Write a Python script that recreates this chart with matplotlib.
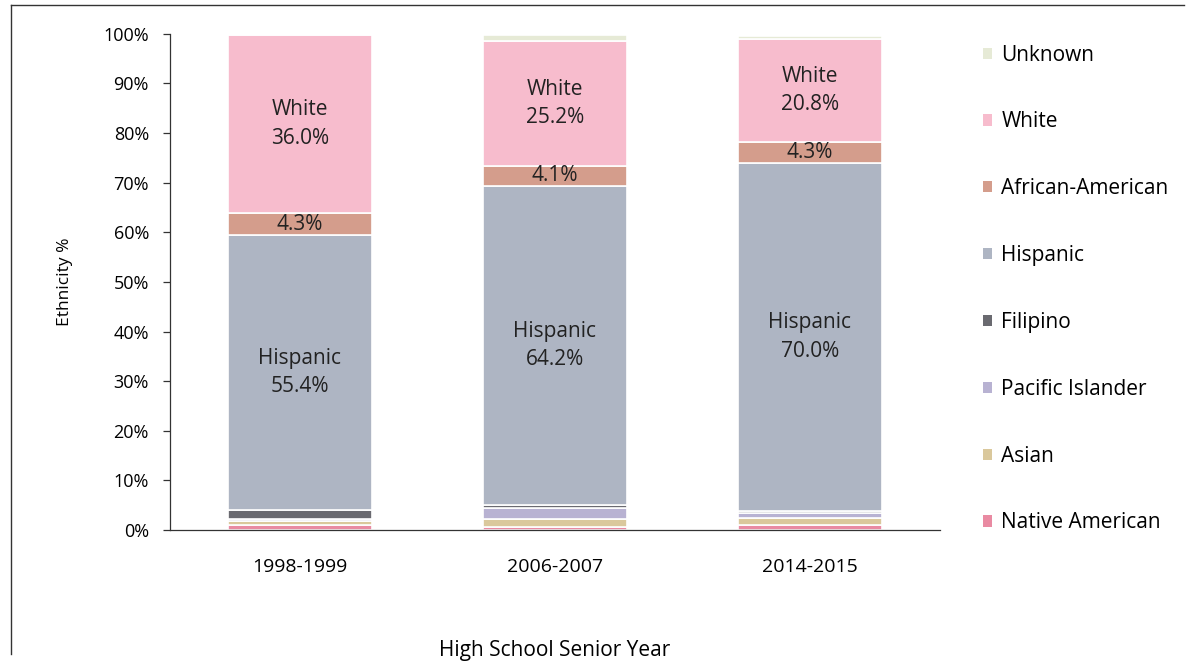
import matplotlib
matplotlib.use("Agg")
import matplotlib.pyplot as plt
from matplotlib.patches import Patch
from matplotlib.lines import Line2D
from matplotlib.ticker import PercentFormatter

plt.rcParams["font.family"] = ["Open Sans", "DejaVu Sans"]

years = ["1998-1999", "2006-2007", "2014-2015"]
groups = ["Native American", "Asian", "Pacific Islander", "Filipino",
          "Hispanic", "African-American", "White", "Unknown"]

native_american = [1.0, 0.6, 1.0]
asian = [0.8, 1.7, 1.5]
pacific_islander = [0.4, 2.2, 0.9]
filipino = [1.9, 0.6, 0.5]
hispanic = [55.4, 64.2, 70.0]
african_american = [4.3, 4.1, 4.3]
white = [36.0, 25.2, 20.8]
unknown = [0.0, 1.2, 0.6]

series = [native_american, asian, pacific_islander, filipino,
          hispanic, african_american, white, unknown]
colors = ["#e98aa2", "#dac89c", "#b8b2d2", "#6a6a70",
          "#aeb5c3", "#d49d8c", "#f7bccd", "#e6ead6"]
labelled = {"Hispanic": "Hispanic\n{:.1f}%", "White": "White\n{:.1f}%",
            "African-American": "{:.1f}%"}

fig = plt.figure(figsize=(11.96, 6.61), dpi=100)
ax = fig.add_axes([0.142, 0.198, 0.644, 0.751])

x = list(range(len(years)))
bottom = [0.0] * len(years)
for name, vals, col in zip(groups, series, colors):
    ax.bar(x, vals, width=0.565, bottom=bottom, color=col,
           edgecolor="white", linewidth=1.2, zorder=2)
    if name in labelled:
        for i, v in enumerate(vals):
            ax.text(x[i], bottom[i] + v / 2, labelled[name].format(v),
                    ha="center", va="center", fontsize=15,
                    color="#222222", linespacing=1.45, zorder=3)
    bottom = [b + v for b, v in zip(bottom, vals)]

ax.set_xlim(-0.51, 2.51)
ax.set_ylim(0, 100)
ax.set_yticks(range(0, 101, 10))
ax.yaxis.set_major_formatter(PercentFormatter(decimals=0))
ax.set_xticks(x)
ax.set_xticklabels(years)
ax.tick_params(axis="y", labelsize=13, length=5, width=0.9,
               color="#333333", pad=10)
ax.tick_params(axis="x", labelsize=14, length=0, pad=20)

for side in ("top", "right"):
    ax.spines[side].set_visible(False)
ax.spines["left"].set_color("#333333")
ax.spines["left"].set_linewidth(0.9)
ax.spines["bottom"].set_color("#333333")
ax.spines["bottom"].set_linewidth(0.9)

ax.set_ylabel("Ethnicity %", fontsize=12.5, labelpad=22)
ax.set_xlabel("High School Senior Year", fontsize=15, labelpad=46)

handles = [Patch(facecolor=c, edgecolor="none") for c in colors]
leg = fig.legend(handles[::-1], groups[::-1], loc="upper left",
                 bbox_to_anchor=(0.806, 0.961), frameon=False,
                 fontsize=15, labelspacing=2.2, handlelength=0.45,
                 handleheight=0.45, handletextpad=0.45)

# outer frame lines along the left and top edges
fig.add_artist(Line2D([0.009, 0.009], [0.01, 0.993],
                      transform=fig.transFigure, color="#333333", lw=1.0))
fig.add_artist(Line2D([0.009, 0.99], [0.993, 0.993],
                      transform=fig.transFigure, color="#333333", lw=1.0))

fig.savefig("out.png", dpi=100)
